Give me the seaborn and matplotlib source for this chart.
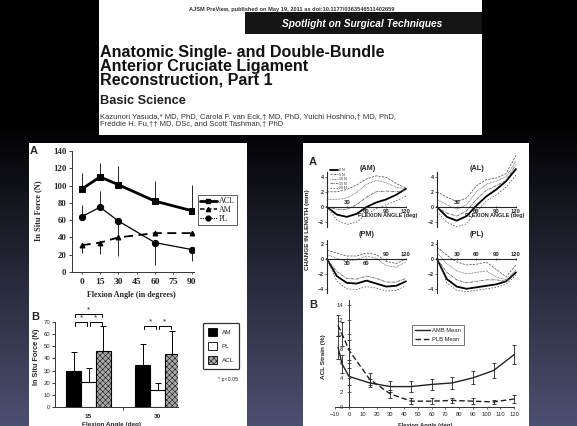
import numpy as np
import pandas as pd
import matplotlib
matplotlib.use('Agg')
import matplotlib.pyplot as plt
import seaborn as sns
from matplotlib.patches import Rectangle, Patch
from matplotlib.lines import Line2D

sns.set_style('white')
plt.rcParams['font.family'] = ['Liberation Sans', 'DejaVu Sans']
plt.rcParams['hatch.linewidth'] = 0.35
SERIF = ['Liberation Serif', 'DejaVu Serif']

# ---------------- data ----------------
force_angles = [0, 15, 30, 60, 90]
acl_force = [96, 110, 101, 82, 71]
acl_err_up = [19, 16, 22, 23, 30]
am_force = [31, 34, 40, 45, 45]
am_err_down = [9, 13, 21, 0, 0]
pl_force = [64, 75, 59, 34, 26]
pl_err_up = [14, 19, 0, 0, 0]
pl_err_down = [0, 0, 19, 26, 13]

bar_angles = ['15', '30']
bar_bundles = ['AM', 'PL', 'ACL']
bar_am = [30, 35]
bar_am_err = [15, 17]
bar_pl = [21, 14]
bar_pl_err = [11, 6]
bar_acl = [46, 44]
bar_acl_err = [21, 19]
sig_pairs = [('15', 'AM', 'PL', 70), ('15', 'PL', 'ACL', 70), ('15', 'AM', 'ACL', 77),
             ('30', 'AM', 'PL', 67), ('30', 'PL', 'ACL', 67)]

len_angle = [0, 15, 30, 45, 60, 75, 90, 105, 120]
len_labels = ['0 N', '5 N', '10 N', '15 N', '20 N']
am_len = [[0, -1.0, -1.3, -0.9, 0.0, 0.6, 1.0, 1.6, 2.4],
          [2.0, 2.0, 2.3, 2.9, 3.7, 4.1, 3.9, 3.1, 2.5],
          [1.0, 1.0, 1.2, 1.9, 3.0, 3.5, 3.2, 2.6, 2.4],
          [0.0, -0.3, -0.3, 0.3, 1.3, 2.0, 2.1, 2.0, 2.2],
          [0.0, -1.7, -2.3, -2.0, -1.0, -0.2, 0.3, 0.8, 1.4]]
al_len = [[0, -1.3, -1.8, -1.2, 0.2, 1.4, 2.3, 3.4, 5.0],
          [2.0, 1.3, 0.7, 1.2, 2.8, 3.6, 3.8, 4.4, 6.8],
          [1.0, 0.3, -0.3, 0.3, 2.0, 3.0, 3.4, 4.0, 6.0],
          [0.0, -0.8, -1.2, -0.5, 1.0, 2.2, 2.8, 3.5, 5.6],
          [-0.6, -2.0, -2.6, -2.2, -0.6, 0.8, 1.6, 2.6, 4.2]]
pm_len = [[0, -2.3, -3.2, -3.3, -2.9, -3.3, -3.7, -3.6, -3.0],
          [1.2, 0.8, 0.4, 0.4, 0.8, 0.6, -0.3, -0.6, 0.0],
          [0.6, 0.1, -0.3, -0.1, 0.4, 0.1, -0.9, -1.1, -0.4],
          [0.0, -1.7, -2.6, -2.7, -2.3, -2.6, -3.1, -3.1, -2.6],
          [0.0, -3.0, -4.0, -4.1, -3.7, -3.9, -4.3, -4.2, -3.6]]
pl_len = [[0, -2.7, -3.7, -4.0, -3.8, -3.6, -3.4, -3.0, -1.8],
          [1.6, 0.5, -0.4, -0.8, -0.7, -0.4, -1.4, -2.4, -0.8],
          [0.8, -0.6, -1.6, -2.0, -1.8, -1.6, -2.4, -2.8, -1.5],
          [0.0, -1.8, -2.8, -3.2, -3.0, -2.8, -2.8, -3.0, -2.0],
          [0.0, -3.2, -4.2, -4.4, -4.2, -4.0, -3.8, -3.4, -2.2]]

strain_angle = [-8, -5, 0, 15, 30, 45, 60, 75, 90, 105, 120]
amb_strain = [8.2, 5.9, 4.2, 3.3, 2.8, 2.8, 3.1, 3.3, 4.0, 5.0, 7.2]
amb_err = [1.6, 1.3, 1.2, 0.6, 0.8, 0.8, 0.7, 0.8, 0.9, 1.0, 1.3]
plb_strain = [11.2, 10.0, 7.8, 3.8, 1.8, 0.8, 0.8, 0.9, 0.8, 0.7, 1.1]
plb_err = [1.4, 1.6, 1.4, 0.8, 0.6, 0.4, 0.4, 0.4, 0.4, 0.3, 0.6]

title_lines = ['Anatomic Single- and Double-Bundle', 'Anterior Cruciate Ligament',
               'Reconstruction, Part 1']

# ---------------- figure ----------------
W, H = 577, 426
fig = plt.figure(figsize=(W / 100, H / 100), dpi=100)


def add_ax(x0, y0, x1, y1):
    ax = fig.add_axes([x0 / W, 1 - y1 / H, (x1 - x0) / W, (y1 - y0) / H])
    ax.patch.set_visible(False)
    return ax


# background (slide) in pixel coordinates
bg = fig.add_axes([0, 0, 1, 1], zorder=-10)
yy = np.linspace(0, 1, H)
t = np.clip((yy * H - 120) / (H - 120), 0, 1) ** 1.0
base = np.array([0x4c, 0x50, 0x70]) / 255.0
grad = (t[:, None] * base[None, :])[:, None, :].repeat(2, axis=1)
bg.imshow(grad, extent=[0, W, H, 0], aspect='auto', interpolation='bilinear')
bg.set_xlim(0, W)
bg.set_ylim(H, 0)
bg.axis('off')
for (x0, y0, x1, y1, c) in [(99, 0, 482, 135, 'white'), (29, 143, 247, 426, 'white'),
                            (303, 143, 529, 426, 'white'), (245, 12, 482, 34, '#141414')]:
    bg.add_patch(Rectangle((x0, y0), x1 - x0, y1 - y0, facecolor=c, edgecolor='none'))

# header text
bg.text(292, 10.5, 'AJSM PreView, published on May 19, 2011 as doi:10.1177/0363546511402659',
        fontsize=4.1, fontweight='bold', color='#333333', ha='center', va='baseline')
bg.text(362, 24, 'Spotlight on Surgical Techniques', fontsize=7.3, fontweight='bold',
        fontstyle='italic', color='white', ha='center', va='center')
bg.text(100, 45.5, '\n'.join(title_lines), fontsize=11.6, fontweight='bold', color='#111111',
        ha='left', va='top', linespacing=0.86)
bg.text(100, 103.5, 'Basic Science', fontsize=9.2, fontweight='bold', color='#222222',
        ha='left', va='baseline')
bg.text(100, 120.7, 'Kazunori Yasuda,* MD, PhD, Carola F. van Eck,\u2020 MD, PhD, Yuichi Hoshino,\u2020 MD, PhD,\n'
        'Freddie H. Fu,\u2020\u2020 MD, DSc, and Scott Tashman,\u2020 PhD',
        fontsize=5.5, color='#333333', ha='left', va='center', linespacing=1.0)

# ---------------- left panel A: in situ force lines ----------------
ax = add_ax(72, 151, 194, 272)
sns.lineplot(x=force_angles, y=acl_force, ax=ax, color='black', lw=2.0, marker='s', ms=4.5,
             mec='black', mfc='black')
sns.lineplot(x=force_angles, y=am_force, ax=ax, color='black', lw=1.3, marker='^', ms=3.5,
             mec='black', dashes=False, linestyle=(0, (5, 3)))
sns.lineplot(x=force_angles, y=pl_force, ax=ax, color='black', lw=0.9, marker='o', ms=4.5,
             mec='black', mfc='black')
ax.errorbar(force_angles, acl_force, yerr=[np.zeros(5), acl_err_up], fmt='none', ecolor='black',
            elinewidth=0.6, capsize=0)
ax.errorbar(force_angles, am_force, yerr=[am_err_down, np.zeros(5)], fmt='none', ecolor='black',
            elinewidth=0.6, capsize=0)
ax.errorbar(force_angles, pl_force, yerr=[pl_err_down, pl_err_up], fmt='none', ecolor='black',
            elinewidth=0.6, capsize=0)
ax.set_xlim(-8, 92)
ax.set_ylim(0, 140)
ax.set_xticks([0, 15, 30, 45, 60, 75, 90])
ax.set_yticks(range(0, 141, 20))
for s in ['top', 'right']:
    ax.spines[s].set_visible(False)
for s in ['left', 'bottom']:
    ax.spines[s].set_linewidth(0.7)
    ax.spines[s].set_color('#333333')
ax.tick_params(axis='y', left=True, length=2.5, width=0.6, pad=1.5, labelsize=6.3)
ax.tick_params(axis='x', bottom=True, length=1.5, width=0.6, pad=3, labelsize=6.8)
for lab in ax.get_xticklabels() + ax.get_yticklabels():
    lab.set_family(SERIF)
    lab.set_fontweight('bold')
ax.set_xlabel('')
ax.set_ylabel('')
handles = [Line2D([], [], color='k', lw=2.0, marker='s', ms=3.5),
           Line2D([], [], color='k', lw=1.1, marker='^', ms=3, linestyle=(0, (3, 1.5))),
           Line2D([], [], color='k', lw=0.8, marker='o', ms=3.5, linestyle=(0, (1, 1)))]
leg = ax.legend(handles, ['ACL', 'AM', 'PL'], loc='upper left', bbox_to_anchor=(198 / W, 1 - 195 / H),
                bbox_transform=fig.transFigure, frameon=True, fancybox=False, edgecolor='#333333',
                prop={'family': SERIF, 'size': 5.8}, handlelength=2.0, borderpad=0.3,
                labelspacing=0.1, handletextpad=0.3, borderaxespad=0)
leg.get_frame().set_linewidth(0.7)
bg.text(34, 151, 'A', fontsize=8, fontweight='bold', ha='center', va='center')
bg.text(38, 211, 'In Situ Force (N)', fontsize=6, fontweight='bold', family=SERIF, rotation=90,
        ha='center', va='center')
bg.text(131, 295, 'Flexion Angle (in degrees)', fontsize=5.8, fontweight='bold', family=SERIF,
        ha='center', va='center')

# ---------------- left panel B: bars ----------------
axb = add_ax(55, 322, 178, 407)
dfb = pd.DataFrame({'angle': bar_angles * 3,
                    'bundle': [b for b in bar_bundles for _ in bar_angles],
                    'force': bar_am + bar_pl + bar_acl})
sns.barplot(data=dfb, x='angle', y='force', hue='bundle', hue_order=bar_bundles, order=bar_angles,
            palette={'AM': 'black', 'PL': 'white', 'ACL': '#a8a8a8'}, edgecolor='black',
            linewidth=0.8, width=0.65, errorbar=None, saturation=1, legend=False, ax=axb)
centers = {}
for cont, bundle, errs in zip(axb.containers, bar_bundles, [bar_am_err, bar_pl_err, bar_acl_err]):
    xs = [p.get_x() + p.get_width() / 2 for p in cont]
    hs = [p.get_height() for p in cont]
    for ang, xc in zip(bar_angles, xs):
        centers[(ang, bundle)] = xc
    if bundle == 'ACL':
        for p in cont:
            p.set_hatch('xxxxxx')
    axb.errorbar(xs, hs, yerr=[np.zeros(len(xs)), errs], fmt='none', ecolor='black',
                 elinewidth=0.7, capsize=2, capthick=0.7)
for ang, b1, b2, yv in sig_pairs:
    x1 = centers[(ang, b1)] + 0.02
    x2 = centers[(ang, b2)] - 0.02
    axb.plot([x1, x1, x2, x2], [yv - 3, yv, yv, yv - 3], color='black', lw=0.7, clip_on=False)
    axb.text((x1 + x2) / 2, yv + 0.5, '*', fontsize=6, ha='center', va='bottom', clip_on=False)
axb.set_xlim((55 - 88.5) / 69, (178 - 88.5) / 69)
axb.set_ylim(0, 70)
axb.set_yticks(range(0, 71, 10))
for s in ['top', 'right']:
    axb.spines[s].set_visible(False)
for s in ['left', 'bottom']:
    axb.spines[s].set_linewidth(0.7)
    axb.spines[s].set_color('#333333')
axb.tick_params(axis='y', left=True, length=2, width=0.6, pad=1.5, labelsize=4.3)
axb.tick_params(axis='x', bottom=False, pad=1.5, labelsize=4.6)
axb.set_xticks([0.5], minor=True)
axb.tick_params(axis='x', which='minor', bottom=True, length=2.5, width=0.6)
for lab in axb.get_xticklabels():
    lab.set_fontweight('bold')
axb.set_xlabel('')
axb.set_ylabel('')
bh = [Patch(facecolor='black', edgecolor='black', lw=0.6),
      Patch(facecolor='white', edgecolor='black', lw=0.6),
      Patch(facecolor='#a8a8a8', edgecolor='black', hatch='xxxxxx', lw=0.6)]
legb = axb.legend(bh, bar_bundles, loc='upper left', bbox_to_anchor=(203 / W, 1 - 323 / H),
                  bbox_transform=fig.transFigure, frameon=True, fancybox=True, edgecolor='black',
                  fontsize=4.6, handlelength=1.4, handleheight=1.5, labelspacing=1.0,
                  borderpad=0.8, handletextpad=0.7, borderaxespad=0)
legb.get_frame().set_linewidth(0.9)
bg.text(218, 380, '* p<0.05', fontsize=3.8, ha='left', va='center')
bg.text(35, 317, 'B', fontsize=8, fontweight='bold', ha='center', va='center')
bg.text(36, 357, 'In Situ Force (N)', fontsize=5.2, fontweight='bold', rotation=90,
        ha='center', va='center')
bg.text(112, 424.5, 'Flexion Angle (deg)', fontsize=4.6, fontweight='bold', ha='center', va='center')

# ---------------- right panel A: change in length ----------------
curve_styles = [(0, (3, 1.5)), (0, (1, 1)), (0, (4, 1, 1, 1)), (0, (2, 2))]


def length_panel(x0, xpx0, y0, y1, ypx0, ppu, curves, yticks, ybounds, tick_pos, with_legend=False):
    pxd = 0.658
    x1 = x0 + 95
    axl = add_ax(x0, y0, x1, y1)
    axl.set_xlim((x0 - xpx0) / pxd, (x1 - xpx0) / pxd)
    axl.set_ylim((ypx0 - y1) / ppu, (ypx0 - y0) / ppu)
    for k, (vals, lab) in enumerate(zip(curves, len_labels)):
        if k == 0:
            sns.lineplot(x=len_angle, y=vals, ax=axl, color='black', lw=1.3, label=lab)
        else:
            sns.lineplot(x=len_angle, y=vals, ax=axl, color='#555555', lw=0.55,
                         linestyle=curve_styles[k - 1], label=lab)
    if with_legend:
        axl.legend(loc='upper left', bbox_to_anchor=(330 / W, 1 - 168 / H),
                   bbox_transform=fig.transFigure, frameon=False, fontsize=2.6,
                   handlelength=2.2, labelspacing=0.15, handletextpad=0.4, borderaxespad=0,
                   borderpad=0)
    else:
        if axl.get_legend() is not None:
            axl.get_legend().remove()
    for s in ['top', 'right']:
        axl.spines[s].set_visible(False)
    axl.spines['left'].set_position(('data', 0))
    axl.spines['bottom'].set_position(('data', 0))
    axl.spines['left'].set_bounds(*ybounds)
    axl.spines['bottom'].set_bounds(0, 120)
    for s in ['left', 'bottom']:
        axl.spines[s].set_linewidth(0.8)
    axl.set_yticks(yticks)
    axl.tick_params(axis='y', left=True, length=1.5, width=0.5, pad=1, labelsize=3.8)
    for lab in axl.get_yticklabels():
        lab.set_fontweight('bold')
    axl.set_xticks([v for v, _ in tick_pos])
    axl.set_xticklabels([])
    axl.tick_params(axis='x', bottom=True, direction='inout', length=2, width=0.5)
    for v, above in tick_pos:
        axl.annotate(str(v), (v, 0), xytext=(0, 1.5 if above else -1.5), textcoords='offset points',
                     ha='center', va='bottom' if above else 'top', fontsize=4.2, fontweight='bold')
    axl.set_xlabel('')
    axl.set_ylabel('')
    return axl


length_panel(320, 327, 165, 232, 207, 7.6, am_len, [-2, 0, 2, 4], (-2.6, 4.6),
             [(30, True), (60, False), (90, False), (120, False)], with_legend=True)
length_panel(430, 437, 143, 232, 207, 7.6, al_len, [-2, 0, 2, 4], (-2.6, 4.6),
             [(30, True), (60, False), (90, False), (120, False)])
length_panel(320, 327, 236, 295, 259, 7.45, pm_len, [-4, -2, 0, 2], (-4.6, 2.6),
             [(30, False), (60, False), (90, True), (120, True)])
length_panel(430, 437, 236, 295, 259, 7.45, pl_len, [-4, -2, 0, 2], (-4.6, 2.6),
             [(30, True), (60, True), (90, True), (120, True)])
for txt, xy in [('(AM)', (368, 169)), ('(AL)', (477, 169)), ('(PM)', (367, 235)), ('(PL)', (477, 235))]:
    bg.text(xy[0], xy[1], txt, fontsize=5.2, fontweight='bold', ha='center', va='center')
bg.text(388, 216, 'FLEXION ANGLE (deg)', fontsize=4, fontweight='bold', ha='center', va='center')
bg.text(495, 216, 'FLEXION ANGLE (deg)', fontsize=4, fontweight='bold', ha='center', va='center')
bg.text(307, 230, 'CHANGE IN LENGTH (mm)', fontsize=4.6, fontweight='bold', rotation=90,
        ha='center', va='center')
bg.text(313, 162, 'A', fontsize=8, fontweight='bold', ha='center', va='center')

# ---------------- right panel B: ACL strain ----------------
axs = add_ax(333, 300, 517, 407)
sns.lineplot(x=strain_angle, y=amb_strain, ax=axs, color='#222222', lw=1.0, label='AMB Mean')
sns.lineplot(x=strain_angle, y=plb_strain, ax=axs, color='#222222', lw=1.0,
             linestyle=(0, (4, 2)), label='PLB Mean')
axs.errorbar(strain_angle, amb_strain, yerr=amb_err, fmt='none', ecolor='#222222',
             elinewidth=0.6, capsize=1.5, capthick=0.6)
axs.errorbar(strain_angle, plb_strain, yerr=plb_err, fmt='none', ecolor='#222222',
             elinewidth=0.6, capsize=1.5, capthick=0.6)
axs.set_xlim((333 - 349) / 1.377, (517 - 349) / 1.377)
axs.set_ylim(0, (407 - 300) / 7.29)
for s in ['top', 'right']:
    axs.spines[s].set_visible(False)
axs.spines['left'].set_position(('data', 0))
axs.spines['bottom'].set_bounds(-10, 120)
for s in ['left', 'bottom']:
    axs.spines[s].set_linewidth(0.7)
    axs.spines[s].set_color('#333333')
axs.set_yticks(range(0, 15, 2))
axs.set_xticks(range(-10, 121, 10))
axs.tick_params(axis='y', left=True, direction='inout', length=3, width=0.5, pad=2.5, labelsize=4.2)
axs.tick_params(axis='x', bottom=True, direction='out', length=1.5, width=0.5, pad=2, labelsize=4.2)
axs.set_xlabel('')
axs.set_ylabel('')
legs = axs.legend(loc='upper left', bbox_to_anchor=(412 / W, 1 - 325 / H),
                  bbox_transform=fig.transFigure, frameon=True, fancybox=False, edgecolor='#333333',
                  fontsize=4.2, handlelength=2.6, labelspacing=0.6, borderpad=0.5,
                  handletextpad=0.4, borderaxespad=0)
legs.get_frame().set_linewidth(0.6)
bg.text(313, 305, 'B', fontsize=8, fontweight='bold', ha='center', va='center')
bg.text(323, 357, 'ACL Strain (%)', fontsize=4.6, fontweight='bold', rotation=90,
        ha='center', va='center')
bg.text(425, 425, 'Flexion Angle (deg)', fontsize=4.2, fontweight='bold', ha='center', va='center')

fig.savefig('out.png', dpi=100)
